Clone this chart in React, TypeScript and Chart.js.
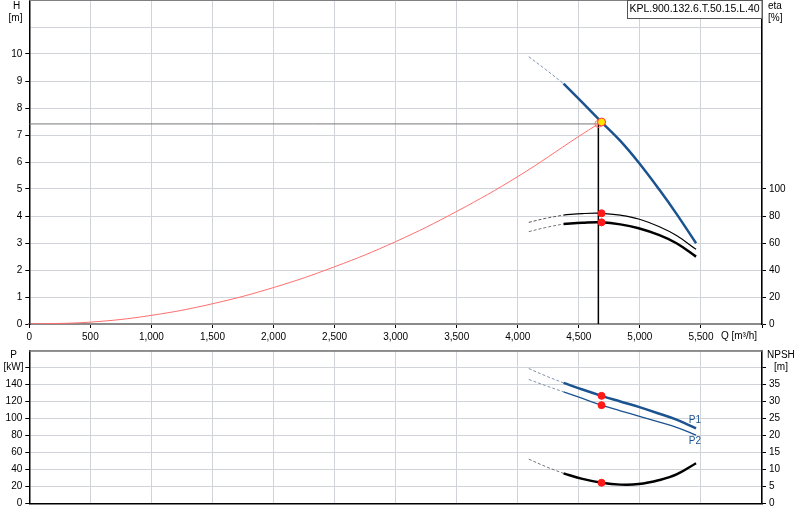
import { useEffect, useRef } from "react";
import { Chart, registerables } from "chart.js";

Chart.register(...registerables);

const qDash = [4090, 4230, 4375];
const qSolid = [4375, 4530, 4686, 4840, 4990, 5160, 5300, 5460];
const qSystem = [0, 500, 1000, 1500, 2000, 2500, 3000, 3500, 4000, 4500, 4660];

// Head [m]
const hDash = [9.9, 9.42, 8.9];
const hSolid = [8.9, 8.2, 7.48, 6.78, 5.98, 4.97, 4.08, 2.99];
const hSystem = [0, 0.07, 0.32, 0.75, 1.35, 2.12, 3.05, 4.17, 5.46, 6.95, 7.41];

// Efficiency [%]
const etaUpDash = [75.3, 78.3, 80.7];
const etaUpSolid = [80.7, 81.8, 82.0, 80.6, 77.8, 72.0, 65.5, 55.3];
const etaLowDash = [68.4, 71.5, 74.1];
const etaLowSolid = [74.1, 75.0, 75.3, 73.8, 70.9, 65.8, 59.8, 49.9];

// Power [kW] and NPSH [m]
const p1Dash = [158.8, 150.0, 141.9];
const p1Solid = [141.9, 134.0, 126.6, 120.0, 113.6, 105.5, 98.5, 88.2];
const p2Dash = [145.9, 138.5, 131.3];
const p2Solid = [131.3, 123.5, 115.6, 109.0, 102.7, 95.5, 89.5, 80.4];
const npshDash = [13.0, 10.8, 8.8];
const npshSolid = [8.8, 7.2, 6.06, 5.5, 5.65, 6.85, 8.5, 11.8];

// Duty point
const dutyQ = 4686;
const dutyH = 7.48;
const dutyEta = [82.0, 75.3];
const dutyP = [126.6, 115.6];
const dutyNpsh = 6.06;
const systemQ = 4660;
const systemH = 7.41;

// Ticks
const qTicks = [0, 500, 1000, 1500, 2000, 2500, 3000, 3500, 4000, 4500, 5000, 5500, 6000];
const hTicks = [0, 1, 2, 3, 4, 5, 6, 7, 8, 9, 10, 11, 12];
const etaTicks = [0, 20, 40, 60, 80, 100, 120, 140, 160, 180, 200, 220, 240];
const pTicks = [0, 20, 40, 60, 80, 100, 120, 140, 160, 180];
const npshTicks = [0, 5, 10, 15, 20, 25, 30, 35, 40, 45];

const modelName = "KPL.900.132.6.T.50.15.L.40";

const FAMILY = '"Liberation Sans", Arial, sans-serif';
const FONT = "10px " + FAMILY;
const BLUE = "#1b5390";
const BLUE_DASH = "#8193ab";
const GRID = "#d0d3d7";

const pts = (qs: number[], vs: number[]) => qs.map((q, i) => ({ x: q, y: vs[i] }));

const setTicks = (values: number[]) => (scale: any) => {
  scale.ticks = values.map((v) => ({ value: v }));
};

// fixed axis sizes, no auto padding from tick labels
const fitWidth = (w: number) => (s: any) => {
  s.width = w;
  s.paddingTop = 0;
  s.paddingBottom = 0;
};
const fitHeight = (h: number) => (s: any) => {
  s.height = h;
  s.paddingLeft = 0;
  s.paddingRight = 0;
};

function line(data: any[], color: string, width: number, yAxisID: string, dashed = false) {
  return {
    data,
    yAxisID,
    borderColor: color,
    borderWidth: width,
    borderDash: dashed ? [3, 2] : [],
    pointRadius: 0,
    fill: false,
    tension: 0.4,
  };
}

function straight(data: any[], color: string, width: number) {
  return { ...line(data, color, width, "y"), tension: 0 };
}

function dots(data: any[], yAxisID: string, r = 3.5, bg = "#ff1a1a", border = "#ff1a1a") {
  return {
    data,
    yAxisID,
    showLine: false,
    pointRadius: r,
    pointBackgroundColor: bg,
    pointBorderColor: border,
    pointBorderWidth: 1,
  };
}

function drawText(ctx: CanvasRenderingContext2D, text: string, x: number, y: number, align: CanvasTextAlign, color = "#000") {
  ctx.fillStyle = color;
  ctx.textAlign = align;
  ctx.textBaseline = "middle";
  ctx.fillText(text, x, y);
}

const tickFont = { size: 10, family: FAMILY };

function TopChart() {
  const ref = useRef<HTMLCanvasElement>(null);

  useEffect(() => {
    if (!ref.current) return;

    const overlay = {
      id: "topOverlay",
      afterDraw(chart: any) {
        const { ctx, chartArea } = chart;
        ctx.save();
        ctx.strokeStyle = "#808080";
        ctx.lineWidth = 1;
        ctx.beginPath();
        ctx.moveTo(chartArea.left, chartArea.top + 0.5);
        ctx.lineTo(chartArea.right, chartArea.top + 0.5);
        ctx.stroke();

        ctx.font = FONT;
        drawText(ctx, "H", 16.5, 6, "center");
        drawText(ctx, "[m]", 15.5, 18, "center");
        drawText(ctx, "eta", 768, 6, "left");
        drawText(ctx, "[%]", 768, 18, "left");

        // model box
        ctx.fillStyle = "#fff";
        ctx.fillRect(627, 0, chartArea.right - 627, 19);
        ctx.strokeStyle = "#555";
        ctx.strokeRect(627.5, 0.5, chartArea.right - 627.5, 18);
        ctx.font = "10.5px " + FAMILY;
        drawText(ctx, modelName, (627 + chartArea.right) / 2, 9.5, "center");

        const xs = chart.scales.x;
        ctx.font = FONT;
        ctx.textBaseline = "top";
        ctx.textAlign = "right";
        ctx.fillStyle = "#000";
        ctx.fillText("Q [m³/h]", 757, xs.top + 7);
        ctx.restore();
      },
    };

    const chart = new Chart(ref.current, {
      type: "line",
      data: {
        datasets: [
          dots([{ x: dutyQ, y: dutyH }], "y", 4, "#ffe600", "#ff3030"),
          dots(dutyEta.map((e) => ({ x: dutyQ, y: e })), "eta"),
          dots([{ x: systemQ, y: systemH }], "y", 3.5, "rgba(255,255,255,0)", "#ff7070"),
          line(pts(qSolid, hSolid), BLUE, 2.5, "y"),
          line(pts(qDash, hDash), BLUE_DASH, 1, "y", true),
          line(pts(qSolid, etaUpSolid), "#000", 1.2, "eta"),
          line(pts(qDash, etaUpDash), "#555", 1, "eta", true),
          line(pts(qSolid, etaLowSolid), "#000", 2.5, "eta"),
          line(pts(qDash, etaLowDash), "#777", 1, "eta", true),
          line(pts(qSystem, hSystem), "#ff6f6f", 1, "y"),
          straight([{ x: systemQ, y: systemH }, { x: systemQ, y: 0 }], "#000", 1.5),
          straight([{ x: 0, y: systemH }, { x: systemQ, y: systemH }], "#777", 1),
        ] as any,
      },
      options: {
        animation: false,
        responsive: true,
        maintainAspectRatio: false,
        events: [],
        layout: { autoPadding: false, padding: 0 },
        plugins: { legend: { display: false }, tooltip: { enabled: false } },
        scales: {
          x: {
            type: "linear",
            min: 0,
            max: 6000,
            afterBuildTicks: setTicks(qTicks),
            afterFit: fitHeight(21),
            grid: { color: GRID, tickColor: "#000", tickLength: 4 },
            border: { color: "#8a8a8a", width: 2 },
            ticks: {
              font: tickFont,
              color: "#000",
              padding: 3,
              autoSkip: false,
              maxRotation: 0,
              callback: (v: any) => (v === 6000 ? "" : Number(v).toLocaleString("en-US")),
            },
          },
          y: {
            type: "linear",
            position: "left",
            min: 0,
            max: 12,
            afterBuildTicks: setTicks(hTicks),
            afterFit: fitWidth(29.3),
            grid: {
              color: GRID,
              tickLength: 4,
              tickColor: (c: any) => (c.tick && c.tick.value <= 10 ? "#000" : "rgba(0,0,0,0)"),
            },
            border: { color: "#000", width: 1.5 },
            ticks: {
              font: tickFont,
              color: "#000",
              padding: 3,
              callback: (v: any) => (v <= 10 ? String(v) : ""),
            },
          },
          eta: {
            type: "linear",
            position: "right",
            min: 0,
            max: 240,
            afterBuildTicks: setTicks(etaTicks),
            afterFit: fitWidth(38),
            grid: {
              drawOnChartArea: false,
              tickLength: 4,
              tickColor: (c: any) => (c.tick && c.tick.value <= 100 ? "#000" : "rgba(0,0,0,0)"),
            },
            border: { color: "#000", width: 1.5 },
            ticks: {
              font: tickFont,
              color: "#000",
              padding: 3,
              callback: (v: any) => (v <= 100 ? String(v) : ""),
            },
          },
        },
      } as any,
      plugins: [overlay],
    });

    return () => chart.destroy();
  }, []);

  return (
    <div style={{ position: "absolute", left: 0, top: 0, width: 800, height: 345 }}>
      <canvas ref={ref} />
    </div>
  );
}

function BottomChart() {
  const ref = useRef<HTMLCanvasElement>(null);

  useEffect(() => {
    if (!ref.current) return;

    const overlay = {
      id: "bottomOverlay",
      afterDraw(chart: any) {
        const { ctx, chartArea } = chart;
        ctx.save();
        ctx.strokeStyle = "#707070";
        ctx.lineWidth = 1.5;
        ctx.beginPath();
        ctx.moveTo(chartArea.left, chartArea.top + 0.5);
        ctx.lineTo(chartArea.right, chartArea.top + 0.5);
        ctx.stroke();

        ctx.font = FONT;
        drawText(ctx, "P", 13.5, 10, "center");
        drawText(ctx, "[kW]", 13.5, 22, "center");
        drawText(ctx, "NPSH", 767, 10, "left");
        drawText(ctx, "[m]", 781, 22, "center");

        const xs = chart.scales.x;
        const ys = chart.scales.y;
        drawText(ctx, "P1", xs.getPixelForValue(5450), ys.getPixelForValue(98), "center", BLUE);
        drawText(ctx, "P2", xs.getPixelForValue(5450), ys.getPixelForValue(73), "center", BLUE);
        ctx.restore();
      },
    };

    const chart = new Chart(ref.current, {
      type: "line",
      data: {
        datasets: [
          dots(dutyP.map((p) => ({ x: dutyQ, y: p })), "y"),
          dots([{ x: dutyQ, y: dutyNpsh }], "npsh"),
          line(pts(qSolid, p1Solid), BLUE, 2.5, "y"),
          line(pts(qDash, p1Dash), BLUE_DASH, 1, "y", true),
          line(pts(qSolid, p2Solid), BLUE, 1.3, "y"),
          line(pts(qDash, p2Dash), BLUE_DASH, 1, "y", true),
          line(pts(qSolid, npshSolid), "#000", 2.5, "npsh"),
          line(pts(qDash, npshDash), "#777", 1, "npsh", true),
        ] as any,
      },
      options: {
        animation: false,
        responsive: true,
        maintainAspectRatio: false,
        events: [],
        layout: { autoPadding: false, padding: { top: 5.5, bottom: 0, left: 0, right: 0 } },
        plugins: { legend: { display: false }, tooltip: { enabled: false } },
        scales: {
          x: {
            type: "linear",
            min: 0,
            max: 6000,
            afterBuildTicks: setTicks(qTicks),
            afterFit: fitHeight(16.7),
            grid: { color: GRID, drawTicks: false },
            border: { color: "#000", width: 1.5 },
            ticks: { display: false },
          },
          y: {
            type: "linear",
            position: "left",
            min: 0,
            max: 180,
            afterBuildTicks: setTicks(pTicks),
            afterFit: fitWidth(29.3),
            grid: {
              color: GRID,
              tickLength: 4,
              tickColor: (c: any) => (c.tick && c.tick.value <= 160 ? "#000" : "rgba(0,0,0,0)"),
            },
            border: { color: "#000", width: 1.5 },
            ticks: {
              font: tickFont,
              color: "#000",
              padding: 3,
              callback: (v: any) => (v <= 140 ? String(v) : ""),
            },
          },
          npsh: {
            type: "linear",
            position: "right",
            min: 0,
            max: 45,
            afterBuildTicks: setTicks(npshTicks),
            afterFit: fitWidth(38),
            grid: {
              drawOnChartArea: false,
              tickLength: 4,
              tickColor: (c: any) => (c.tick && c.tick.value <= 40 ? "#000" : "rgba(0,0,0,0)"),
            },
            border: { color: "#000", width: 1.5 },
            ticks: {
              font: tickFont,
              color: "#000",
              padding: 3,
              callback: (v: any) => (v <= 35 ? String(v) : ""),
            },
          },
        },
      } as any,
      plugins: [overlay],
    });

    return () => chart.destroy();
  }, []);

  return (
    <div style={{ position: "absolute", left: 0, top: 345, width: 800, height: 175 }}>
      <canvas ref={ref} />
    </div>
  );
}

export default function App() {
  return (
    <div style={{ position: "absolute", left: 0, top: 0, width: 800, height: 520, background: "#fff" }}>
      <TopChart />
      <BottomChart />
    </div>
  );
}
